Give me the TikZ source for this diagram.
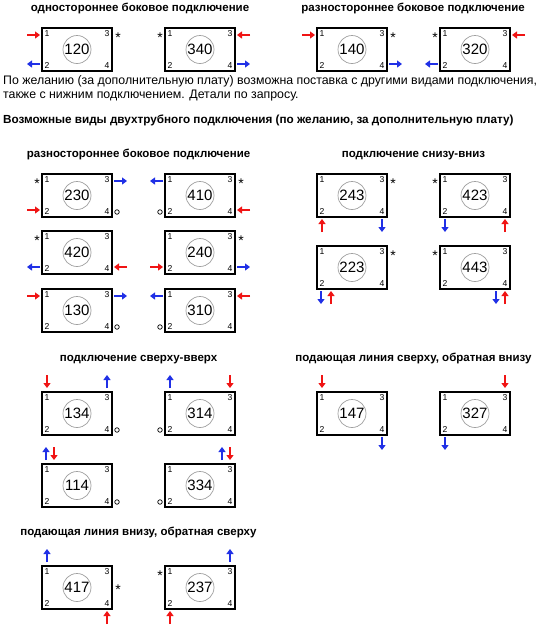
\documentclass[tikz,border=0pt]{standalone}
\usepackage{fontspec}
\setmainfont{Liberation Sans}
\usetikzlibrary{arrows.meta,calc}
\definecolor{pred}{HTML}{F01414}
\definecolor{pblue}{HTML}{2030E6}
\definecolor{gaugegray}{HTML}{A0A0A0}
\tikzset{
  radbox/.style={draw=black, line width=2pt, minimum width=70pt, minimum height=43pt, inner sep=0pt, outer sep=0pt, anchor=north west},
  gauge/.style={circle, draw=gaugegray, line width=0.7pt, minimum size=28pt, inner sep=0pt, font=\fontsize{15}{15}\selectfont},
  cnum/.style={inner sep=0pt, font=\fontsize{8.6}{9}\selectfont},
  pipe/.style={draw=#1, line width=2pt, -{Triangle[length=5pt,width=7pt]}},
  astk/.style={inner sep=0pt, anchor=base, font=\fontsize{14}{14}\selectfont},
  plug/.style={circle, draw=black, line width=0.7pt, minimum size=4.5pt, inner sep=0pt},
  title/.style={inner sep=0pt, anchor=base, font=\bfseries\fontsize{11.5}{13}\selectfont},
  para/.style={inner sep=0pt, anchor=base west, font=\fontsize{12.35}{14}\selectfont}
}
\newcommand\radiator[3]{%
  \node[radbox] (b#1) at (#2,#3) {};
  \node[gauge] (g#1) at (b#1.center) {#1};
  \node[cnum,anchor=north west] (b#1-1) at ($(b#1.north west)+(2.5,2.5)$) {1};
  \node[cnum,anchor=south west] (b#1-2) at ($(b#1.south west)+(2.5,-2.5)$) {2};
  \node[cnum,anchor=north east] (b#1-3) at ($(b#1.north east)+(-2.5,2.5)$) {3};
  \node[cnum,anchor=south east] (b#1-4) at ($(b#1.south east)+(-2.5,-2.5)$) {4};
  \coordinate (b#1-p1) at ($(b#1.north west)+(0,7)$);
  \coordinate (b#1-p2) at ($(b#1.north west)+(0,36)$);
  \coordinate (b#1-p3) at ($(b#1.north east)+(0,7)$);
  \coordinate (b#1-p4) at ($(b#1.north east)+(0,36)$);
  \coordinate (b#1-tl) at ($(b#1.north west)+(5,0)$);
  \coordinate (b#1-tr) at ($(b#1.north east)+(-5,0)$);
  \coordinate (b#1-bl) at ($(b#1.south west)+(5,0)$);
  \coordinate (b#1-br) at ($(b#1.south east)+(-5,0)$);
}
\newcommand\fromL[2]{\draw[pipe=#1] ($(#2)+(-15,0)$) -- ($(#2)+(-2,0)$);}
\newcommand\toL[2]{\draw[pipe=#1] ($(#2)+(-2,0)$) -- ($(#2)+(-15,0)$);}
\newcommand\fromR[2]{\draw[pipe=#1] ($(#2)+(15,0)$) -- ($(#2)+(2,0)$);}
\newcommand\toR[2]{\draw[pipe=#1] ($(#2)+(2,0)$) -- ($(#2)+(15,0)$);}
\newcommand\fromT[2]{\draw[pipe=#1] ($(#2)+(0,-17)$) -- ($(#2)+(0,-4)$);}
\newcommand\toT[2]{\draw[pipe=#1] ($(#2)+(0,-4)$) -- ($(#2)+(0,-17)$);}
\newcommand\fromB[2]{\draw[pipe=#1] ($(#2)+(0,15)$) -- ($(#2)+(0,2)$);}
\newcommand\toB[2]{\draw[pipe=#1] ($(#2)+(0,2)$) -- ($(#2)+(0,15)$);}
\newcommand\astR[2]{\node[astk] (s#1) at ($(b#1.north east)+(6,#2)$) {*};}
\newcommand\astL[2]{\node[astk] (s#1) at ($(b#1.north west)+(-5,#2)$) {*};}
\newcommand\plugR[1]{\node[plug] (o#1) at ($(b#1.south east)+(5,-5)$) {};}
\newcommand\plugL[1]{\node[plug] (o#1) at ($(b#1.south west)+(-5,-5)$) {};}

\begin{document}
\begin{tikzpicture}[x=1pt,y=-1pt]
\useasboundingbox[fill=white] (0,0) rectangle (538,625);

% titles
\node[title] (t1) at (140,11) {одностороннее боковое подключение};
\node[title] (t2) at (413,11) {разностороннее боковое подключение};
\node[para] (n1) at (3,84) {По желанию (за дополнительную плату) возможна поставка с другими видами подключения,};
\node[para] (n2) at (3,98) {также с нижним подключением. Детали по запросу.};
\node[title,anchor=base west,font=\bfseries\fontsize{11.72}{14}\selectfont] (h1) at (3,123.5) {Возможные виды двухтрубного подключения (по желанию, за дополнительную плату)};
\node[title] (t3) at (138.5,157) {разностороннее боковое подключение};
\node[title] (t4) at (413.5,157) {подключение снизу-вниз};
\node[title] (t5) at (138.5,361) {подключение сверху-вверх};
\node[title] (t6) at (413.5,361) {подающая линия сверху, обратная внизу};
\node[title] (t7) at (138.5,535) {подающая линия внизу, обратная сверху};

% row 1
\radiator{120}{42}{28}
\fromL{pred}{b120-p1} \toL{pblue}{b120-p2} \astR{120}{14.5}
\radiator{340}{165}{28}
\astL{340}{14.5} \fromR{pred}{b340-p3} \toR{pblue}{b340-p4}
\radiator{140}{317}{28}
\fromL{pred}{b140-p1} \astR{140}{14.5} \toR{pblue}{b140-p4}
\radiator{320}{440}{28}
\astL{320}{14.5} \toL{pblue}{b320-p2} \fromR{pred}{b320-p3}

% side connections
\radiator{230}{42}{174}
\astL{230}{14.5} \fromL{pred}{b230-p2} \toR{pblue}{b230-p3} \plugR{230}
\radiator{410}{165}{174}
\toL{pblue}{b410-p1} \astR{410}{14.5} \plugL{410} \fromR{pred}{b410-p4}
\radiator{420}{42}{231}
\astL{420}{14.5} \toL{pblue}{b420-p2} \fromR{pred}{b420-p4}
\radiator{240}{165}{231}
\astR{240}{14.5} \fromL{pred}{b240-p2} \toR{pblue}{b240-p4}
\radiator{130}{42}{289}
\fromL{pred}{b130-p1} \toR{pblue}{b130-p3} \plugR{130}
\radiator{310}{165}{289}
\toL{pblue}{b310-p1} \fromR{pred}{b310-p3} \plugL{310}

% bottom-bottom
\radiator{243}{317}{174}
\astR{243}{14.5} \fromB{pred}{b243-bl} \toB{pblue}{b243-br}
\radiator{423}{440}{174}
\astL{423}{14.5} \toB{pblue}{b423-bl} \fromB{pred}{b423-br}
\radiator{223}{317}{246}
\astR{223}{14.5}
\coordinate (c223a) at ($(b223.south west)+(4,0)$);
\coordinate (c223b) at ($(b223.south west)+(14,0)$);
\toB{pblue}{c223a} \fromB{pred}{c223b}
\radiator{443}{440}{246}
\astL{443}{14.5}
\coordinate (c443a) at ($(b443.south east)+(-14,0)$);
\coordinate (c443b) at ($(b443.south east)+(-5,0)$);
\toB{pblue}{c443a} \fromB{pred}{c443b}

% top-top
\radiator{134}{42}{392}
\fromT{pred}{b134-tl} \toT{pblue}{b134-tr} \plugR{134}
\radiator{314}{165}{392}
\toT{pblue}{b314-tl} \fromT{pred}{b314-tr} \plugL{314}
\radiator{114}{42}{464}
\coordinate (c114a) at ($(b114.north west)+(4,0)$);
\coordinate (c114b) at ($(b114.north west)+(12,0)$);
\toT{pblue}{c114a} \fromT{pred}{c114b} \plugR{114}
\radiator{334}{165}{464}
\coordinate (c334a) at ($(b334.north east)+(-13,0)$);
\coordinate (c334b) at ($(b334.north east)+(-5,0)$);
\toT{pblue}{c334a} \fromT{pred}{c334b} \plugL{334}

% top supply, bottom return
\radiator{147}{317}{392}
\fromT{pred}{b147-tl} \toB{pblue}{b147-br}
\radiator{327}{440}{392}
\fromT{pred}{b327-tr} \toB{pblue}{b327-bl}

% bottom supply, top return
\radiator{417}{42}{566}
\toT{pblue}{b417-tl} \astR{417}{28.5} \fromB{pred}{b417-br}
\radiator{237}{165}{566}
\astL{237}{14.5} \toT{pblue}{b237-tr} \fromB{pred}{b237-bl}
\end{tikzpicture}
\end{document}
